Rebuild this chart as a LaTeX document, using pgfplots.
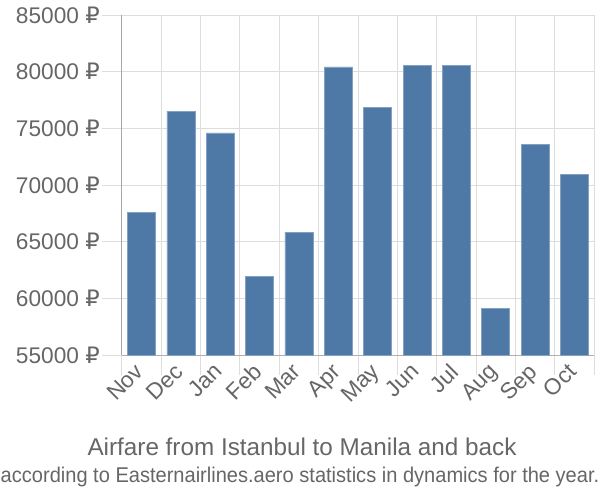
\documentclass[border=0pt]{standalone}
\usepackage{fontspec}
\setmainfont{Liberation Sans}
\newfontfamily\rub{DejaVu Sans}
\usepackage{graphicx}
\usepackage{pgfplots}
\pgfplotsset{compat=1.18}
\definecolor{barc}{HTML}{4E79A7}
\definecolor{txt}{HTML}{666666}
\definecolor{gridc}{HTML}{DDDDDD}
\begin{document}
\begin{tikzpicture}
\path[use as bounding box] (-91.5pt,-108.75pt) rectangle (358.5pt,266.25pt);
\begin{axis}[
  scale only axis, width=354pt, height=255pt,
  xmin=-0.5, xmax=11.5, ymin=55000, ymax=85000,
  ytick={55000,60000,...,85000},
  scaled y ticks=false,
  xtick={0,...,11},
  xticklabels={Nov,Dec,Jan,Feb,Mar,Apr,May,Jun,Jul,Aug,Sep,Oct},
  minor xtick={-0.5,0.5,...,11.5},
  xminorgrids=true, ymajorgrids=true, xmajorgrids=false,
  grid style={gridc, line width=0.75pt},
  minor grid style={gridc, line width=0.75pt},
  tick align=outside,
  major tick length=15pt, minor tick length=15pt,
  major x tick style={draw=none},
  minor x tick style={gridc, line width=0.75pt},
  major y tick style={gridc, line width=0.75pt},
  axis x line*=bottom, axis y line*=left,
  axis line style={-},
  x axis line style={draw=gridc!80!black, line width=0.75pt},
  y axis line style={draw=black!35, line width=0.75pt},
  /pgf/number format/assume math mode=true,
  /pgf/number format/set thousands separator={},
  yticklabel={\pgfmathprintnumber{\tick} {\rub ₽}},
  yticklabel style={font=\fontsize{17}{20}\selectfont, text=txt, inner sep=0pt, xshift=-1.5pt},
  xticklabel style={font=\fontsize{17}{20}\selectfont, text=txt, inner sep=0pt, xshift=-6pt, yshift=10pt, rotate=45, anchor=north east},
  ybar, bar width=21pt,
]
\addplot[fill=barc, draw=barc!70!white, line width=0.5pt] coordinates {
  (0,67600) (1,76500) (2,74600) (3,61950) (4,65850) (5,80420)
  (6,76880) (7,80520) (8,80520) (9,59120) (10,73600) (11,70970)
};
\end{axis}
\node[text=txt, font=\fontsize{18.2}{21}\selectfont] at (135pt,-69pt) {Airfare from Istanbul to Manila and back};
\node[text=txt, font=\fontsize{16}{19}\selectfont] at (133.5pt,-91.5pt) {\scalebox{0.94}[1]{according to Easternairlines.aero statistics in dynamics for the year.}};
\end{tikzpicture}
\end{document}
